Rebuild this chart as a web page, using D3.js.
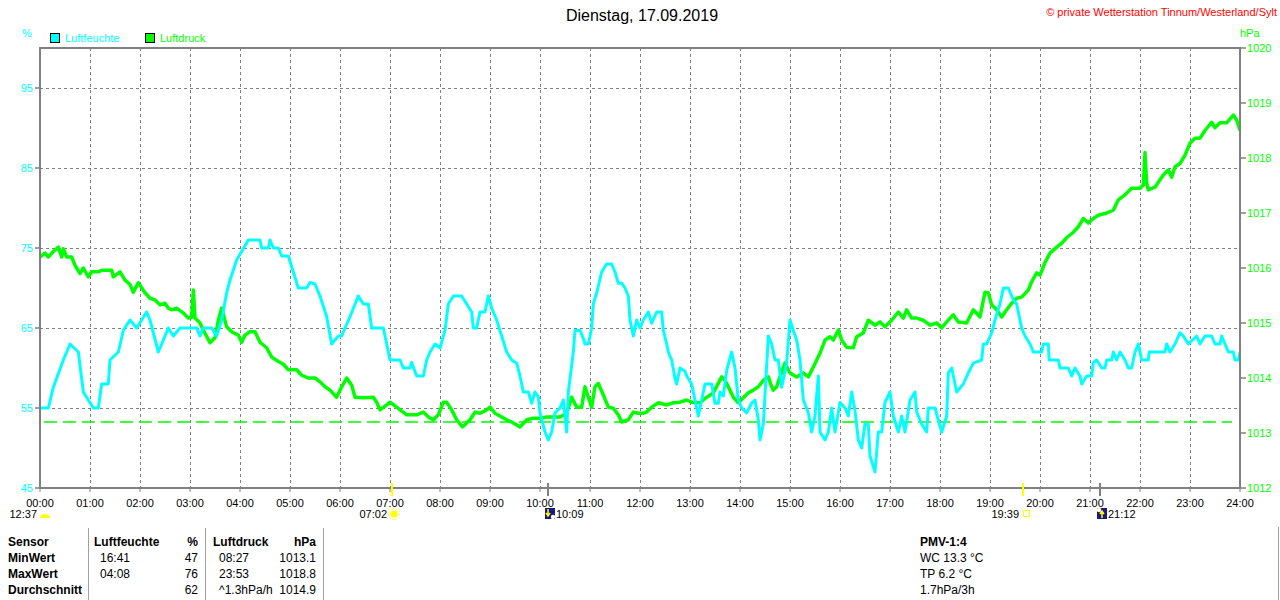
<!DOCTYPE html>
<html>
<head>
<meta charset="utf-8">
<script src="https://cdn.jsdelivr.net/npm/d3@7"></script>
<style>
  body { margin: 0; background: #fff; }
  svg { display: block; font-family: "Liberation Sans", Arial, sans-serif; }
  .grid line { stroke: #808080; stroke-dasharray: 3,3; stroke-width: 1; }
  .frame { stroke: #808080; stroke-width: 2; fill: none; }
  .tbl { font-size: 12px; fill: #000; }
  .bold { font-weight: bold; }
</style>
</head>
<body>
<svg id="chart" width="1280" height="600"></svg>
<script>
// Luftfeuchte [Minute des Tages, %]
const humidity = [
  [0,55],[10,55],[16,57.6],[28,61],[36,63],[46,62],[52,57],[64,55],[70,55],[74,58],[82,58],[84,61],
  [94,62],[100,64.7],[108,66],[116,65],[128,67],[132,66],[142,62],[146,63],[154,65],[160,64],[168,65],
  [188,65],[192,64],[196,65],[206,65],[212,64],[218,66],[224,69.4],[228,71],[236,73.5],[250,76],[264,76],
  [266,75],[274,75],[276,76],[280,75],[286,75],[290,74],[298,74],[304,72],[310,70],[320,70],[324,70.7],
  [330,70.5],[336,69],[344,66.4],[350,63],[358,64],[362,64],[366,65],[372,66.4],[382,69],[388,68],
  [394,68],[398,65],[408,65],[412,65],[420,61],[432,61],[436,60],[444,60],[446,60.7],[452,59],[460,59],
  [464,61],[468,62],[474,63],[480,62.5],[486,64.7],[490,68],[496,69],[506,69],[512,68],[518,67],[520,65],
  [524,65],[528,67],[534,67],[538,69],[542,67.5],[548,66],[554,64],[560,62],[566,61],[572,60.6],[576,59],
  [580,57],[586,57],[590,55.6],[594,57],[598,56.4],[600,54.4],[606,52],[610,51],[614,52],[618,54.4],
  [624,55],[628,56],[632,52],[634,57],[640,62],[642,64.7],[648,64.7],[652,63.7],[654,63],[658,63],
  [662,65],[664,68],[668,69.4],[674,72],[680,73],[686,73],[690,72],[694,70.6],[698,70.6],[702,70],
  [706,69],[708,66],[712,64],[716,66],[720,65],[724,66],[730,67],[734,65.6],[740,67],[746,67],[748,64.7],
  [752,63],[754,62],[758,61],[762,58.7],[764,58],[768,60],[774,59.6],[776,59],[782,58],[786,56],[790,54],
  [794,56],[798,58],[806,58],[810,55.6],[814,55.6],[816,57],[820,56.5],[824,59.7],[830,62],[834,60],
  [838,56],[842,55],[848,54.4],[854,55.6],[858,56],[862,53.5],[864,51],[868,53],[874,64],[878,63],
  [882,61],[886,61],[890,57.6],[896,60.6],[900,66],[904,64.7],[908,63.5],[912,61],[916,56],[922,54.4],
  [926,52],[930,54],[934,59],[936,52],[942,51],[946,52],[950,55],[954,52],[960,55.7],[966,55],[970,54],
  [974,57],[978,54.7],[982,51],[986,50],[990,53],[994,53],[996,49],[1002,47],[1006,52],[1010,52],
  [1014,55.7],[1020,57],[1024,54],[1030,52],[1034,54],[1038,52],[1044,56],[1050,57],[1052,54.5],
  [1058,53],[1064,52],[1066,55],[1074,55],[1082,52],[1088,54],[1090,59.4],[1094,60],[1100,57],[1108,58],
  [1114,59.4],[1120,60.6],[1130,61],[1132,63],[1136,63],[1142,64.4],[1146,66],[1152,68],[1156,70],
  [1162,70],[1168,68.5],[1172,68],[1178,65],[1182,64],[1188,63],[1192,62],[1202,62],[1204,63],[1210,63],
  [1211,61],[1222,61],[1224,60],[1234,60],[1238,59],[1242,60],[1248,59],[1250,58],[1256,59],[1262,59],
  [1264,60.7],[1268,61],[1274,60],[1278,60],[1280,61],[1286,61],[1288,62],[1292,61],[1296,62],[1302,61],
  [1306,60],[1310,60],[1314,62],[1318,63],[1322,61],[1330,61],[1331,62],[1350,62],[1352,63],[1356,62],
  [1362,63],[1368,64.4],[1372,64],[1378,63],[1388,64],[1392,63],[1398,64],[1406,64],[1410,63],[1416,63],
  [1418,64],[1422,63],[1426,62],[1432,62],[1434,61],[1438,61],[1440,62]
];

// Luftdruck [Minute des Tages, hPa]
const pressure = [
  [0,1016.2],[6,1016.27],[10,1016.2],[16,1016.3],[22,1016.38],[26,1016.2],[28,1016.35],[32,1016.2],
  [38,1016.2],[42,1016.05],[48,1015.9],[52,1016.0],[58,1015.84],[62,1015.93],[70,1015.93],[74,1015.96],
  [86,1015.96],[88,1015.84],[96,1015.93],[102,1015.78],[108,1015.7],[112,1015.56],[118,1015.73],
  [122,1015.64],[126,1015.55],[132,1015.45],[138,1015.42],[144,1015.33],[150,1015.36],[154,1015.27],
  [158,1015.24],[164,1015.27],[172,1015.18],[178,1015.09],[182,1015.1],[184,1015.6],[186,1015.09],
  [192,1015.0],[196,1014.87],[204,1014.64],[210,1014.73],[214,1015.05],[218,1015.27],[224,1014.93],
  [230,1014.84],[238,1014.78],[242,1014.65],[246,1014.78],[252,1014.84],[258,1014.84],[264,1014.65],
  [272,1014.55],[278,1014.38],[286,1014.3],[292,1014.25],[298,1014.15],[308,1014.15],[314,1014.05],
  [322,1014.0],[330,1014.0],[336,1013.93],[342,1013.84],[348,1013.78],[356,1013.65],[362,1013.84],
  [368,1014.0],[374,1013.87],[378,1013.65],[388,1013.64],[400,1013.65],[404,1013.56],[408,1013.42],
  [416,1013.51],[420,1013.56],[428,1013.47],[440,1013.33],[452,1013.33],[460,1013.38],[466,1013.29],
  [472,1013.24],[478,1013.33],[484,1013.56],[488,1013.56],[494,1013.42],[500,1013.24],[507,1013.11],
  [516,1013.24],[522,1013.38],[528,1013.36],[536,1013.42],[540,1013.47],[546,1013.36],[554,1013.29],
  [560,1013.24],[566,1013.2],[576,1013.11],[584,1013.24],[592,1013.27],[600,1013.27],[608,1013.29],
  [616,1013.29],[624,1013.29],[632,1013.36],[638,1013.65],[644,1013.47],[650,1013.47],[654,1013.84],
  [658,1013.65],[662,1013.47],[666,1013.84],[670,1013.9],[676,1013.69],[682,1013.47],[688,1013.45],
  [694,1013.33],[698,1013.2],[706,1013.24],[712,1013.38],[718,1013.36],[724,1013.36],[728,1013.38],
  [734,1013.47],[742,1013.55],[752,1013.51],[760,1013.55],[768,1013.56],[776,1013.6],[782,1013.56],
  [792,1013.55],[800,1013.65],[808,1013.73],[818,1014.02],[822,1013.96],[826,1013.84],[832,1013.65],
  [838,1013.55],[844,1013.64],[850,1013.73],[856,1013.78],[862,1013.84],[868,1013.96],[874,1014.02],
  [878,1013.84],[880,1013.78],[884,1013.84],[888,1014.02],[894,1014.27],[900,1014.09],[908,1014.02],
  [916,1014.09],[922,1014.02],[928,1014.2],[936,1014.45],[942,1014.69],[948,1014.75],[952,1014.69],
  [958,1014.87],[962,1014.69],[968,1014.56],[976,1014.55],[980,1014.75],[988,1014.82],[994,1015.05],
  [1002,1014.96],[1008,1015.02],[1014,1014.93],[1022,1015.05],[1030,1015.2],[1036,1015.09],[1040,1015.24],
  [1046,1015.09],[1052,1015.09],[1060,1015.05],[1068,1014.96],[1076,1015.0],[1082,1014.91],[1088,1015.02],
  [1096,1015.15],[1102,1015.02],[1112,1015.0],[1120,1015.24],[1128,1015.11],[1134,1015.56],[1138,1015.55],
  [1142,1015.33],[1148,1015.24],[1154,1015.11],[1160,1015.24],[1166,1015.36],[1172,1015.45],[1178,1015.47],
  [1186,1015.6],[1190,1015.75],[1196,1015.91],[1200,1015.87],[1206,1016.1],[1212,1016.27],[1220,1016.38],
  [1226,1016.45],[1232,1016.55],[1240,1016.65],[1246,1016.75],[1252,1016.9],[1258,1016.82],[1264,1016.9],
  [1270,1016.96],[1280,1017.0],[1288,1017.05],[1294,1017.24],[1302,1017.33],[1310,1017.45],[1320,1017.45],
  [1324,1017.51],[1326,1018.1],[1328,1017.55],[1330,1017.42],[1338,1017.47],[1342,1017.56],[1348,1017.69],
  [1354,1017.78],[1358,1017.65],[1362,1017.84],[1368,1017.9],[1374,1018.05],[1380,1018.27],[1386,1018.36],
  [1392,1018.36],[1398,1018.5],[1406,1018.65],[1410,1018.55],[1416,1018.64],[1424,1018.64],[1432,1018.78],
  [1436,1018.69],[1440,1018.5]
];

const humTicks = [45, 55, 65, 75, 85, 95];
const pressTicks = [1012, 1013, 1014, 1015, 1016, 1017, 1018, 1019, 1020];
const hourTicks = d3.range(0, 25);
const pressRefLine = 1013.2;

// Sonne / Mond Ereignisse [Minute, Label, Typ]
const astroEvents = [
  [0, "12:37", "moonset0"],
  [422, "07:02", "sunrise"],
  [609, "10:09", "moonset"],
  [1179, "19:39", "sunset"],
  [1272, "21:12", "moonrise"]
];

// Tabelle
const tableHeader = ["Sensor", "Luftfeuchte", "%", "Luftdruck", "hPa"];
const tableRows = [
  ["MinWert", "16:41", "47", "08:27", "1013.1"],
  ["MaxWert", "04:08", "76", "23:53", "1018.8"],
  ["Durchschnitt", "", "62", "^1.3hPa/h", "1014.9"]
];
const pmvLines = ["PMV-1:4", "WC 13.3 °C", "TP 6.2 °C", "1.7hPa/3h"];

const CYAN = "#00ffff", GREEN = "#00ff00";
const svg = d3.select("#chart");

const x = d3.scaleLinear().domain([0, 1440]).range([40, 1240]);
const yH = d3.scaleLinear().domain([45, 100]).range([488, 48]);
const yP = d3.scaleLinear().domain([1012, 1020]).range([488, 48]);

// Titel
svg.append("text").attr("x", 642).attr("y", 21).attr("text-anchor", "middle")
  .style("font-size", "16px").attr("fill", "#000").text("Dienstag, 17.09.2019");
svg.append("text").attr("x", 1277).attr("y", 16).attr("text-anchor", "end")
  .style("font-size", "11px").attr("fill", "#ff0000").text("© private Wetterstation Tinnum/Westerland/Sylt");

// Einheiten + Legende
svg.append("text").attr("x", 22).attr("y", 37).style("font-size", "11px").attr("fill", CYAN).text("%");
svg.append("text").attr("x", 1240).attr("y", 37).style("font-size", "11px").attr("fill", GREEN).text("hPa");
const legend = [["Luftfeuchte", CYAN, 50], ["Luftdruck", GREEN, 145]];
legend.forEach(([name, col, lx]) => {
  svg.append("rect").attr("x", lx + 0.5).attr("y", 33.5).attr("width", 9).attr("height", 9)
    .attr("fill", col).attr("stroke", "#000");
  svg.append("text").attr("x", lx + 15).attr("y", 42).style("font-size", "11px").attr("fill", col).text(name);
});

// Gitter
const grid = svg.append("g").attr("class", "grid");
grid.selectAll(".v").data(hourTicks.slice(1, -1)).join("line")
  .attr("x1", d => x(d * 60) + 0.5).attr("x2", d => x(d * 60) + 0.5)
  .attr("y1", 48).attr("y2", 488);
grid.selectAll(".h").data(humTicks.slice(1)).join("line")
  .attr("x1", 40).attr("x2", 1240)
  .attr("y1", d => yH(d) + 0.5).attr("y2", d => yH(d) + 0.5);

// Referenzlinie Luftdruck
svg.append("line").attr("x1", 44).attr("x2", 1232)
  .attr("y1", yP(pressRefLine)).attr("y2", yP(pressRefLine))
  .attr("stroke", GREEN).attr("stroke-width", 1.5).attr("stroke-dasharray", "13,6");

// Kurven
svg.append("clipPath").attr("id", "clip").append("rect")
  .attr("x", 41).attr("y", 49).attr("width", 1198).attr("height", 438);
svg.append("path").datum(pressure)
  .attr("clip-path", "url(#clip)")
  .attr("d", d3.line().x(d => x(d[0])).y(d => yP(d[1])))
  .attr("fill", "none").attr("stroke", GREEN).attr("stroke-width", 3.5).attr("stroke-linejoin", "round");
svg.append("path").datum(humidity)
  .attr("clip-path", "url(#clip)")
  .attr("d", d3.line().x(d => x(d[0])).y(d => yH(d[1])))
  .attr("fill", "none").attr("stroke", CYAN).attr("stroke-width", 3).attr("stroke-linejoin", "round");

// Rahmen
svg.append("path").attr("class", "frame")
  .attr("d", "M40,48 H1240 V488 H40 Z");

// linke Achse
const lAx = svg.append("g");
lAx.selectAll("line").data(humTicks).join("line")
  .attr("x1", 35).attr("x2", 40).attr("y1", d => yH(d)).attr("y2", d => yH(d))
  .attr("stroke", "#808080").attr("stroke-width", 1.5);
lAx.selectAll("text").data(humTicks).join("text")
  .attr("x", 33).attr("y", d => yH(d) + 4).attr("text-anchor", "end")
  .style("font-size", "11px").attr("fill", CYAN).text(d => d);

// rechte Achse
const rAx = svg.append("g");
rAx.selectAll("line").data(pressTicks).join("line")
  .attr("x1", 1240).attr("x2", 1246).attr("y1", d => yP(d)).attr("y2", d => yP(d))
  .attr("stroke", "#808080").attr("stroke-width", 1.5);
rAx.selectAll("text").data(pressTicks).join("text")
  .attr("x", 1247).attr("y", d => yP(d) + 4)
  .style("font-size", "11px").attr("fill", GREEN).text(d => d);

// Zeitachse
const xAx = svg.append("g");
xAx.selectAll("line").data(hourTicks).join("line")
  .attr("x1", d => x(d * 60)).attr("x2", d => x(d * 60)).attr("y1", 488).attr("y2", 492)
  .attr("stroke", "#808080");
xAx.selectAll("text").data(hourTicks).join("text")
  .attr("x", d => x(d * 60)).attr("y", 507).attr("text-anchor", "middle")
  .style("font-size", "11px").attr("fill", "#000")
  .text(d => String(d).padStart(2, "0") + ":00");

// Sonne/Mond Symbole
astroEvents.forEach(([m, label, type]) => {
  const px = Math.round(x(m));
  const g = svg.append("g");
  if (type === "sunrise" || type === "sunset") {
    g.append("line").attr("x1", px).attr("x2", px).attr("y1", 483).attr("y2", 496)
      .attr("stroke", "#ffff00").attr("stroke-width", 2);
  } else if (type !== "moonset0") {
    g.append("line").attr("x1", px).attr("x2", px).attr("y1", 483).attr("y2", 496)
      .attr("stroke", "#808080").attr("stroke-width", 2);
  }
  if (type === "moonset0") {
    g.append("text").attr("x", 37).attr("y", 518).attr("text-anchor", "end")
      .style("font-size", "11px").text(label);
    g.append("path").attr("d", "M40,518 a5,4 0 0 1 10,0 Z").attr("fill", "#ffff00");
  } else if (type === "sunrise") {
    g.append("text").attr("x", px - 5).attr("y", 518).attr("text-anchor", "end")
      .style("font-size", "11px").text(label);
    g.append("circle").attr("cx", px + 2).attr("cy", 514).attr("r", 3.5).attr("fill", "#ffff00");
    g.append("circle").attr("cx", px + 2).attr("cy", 514).attr("r", 5.5).attr("fill", "none")
      .attr("stroke", "#ffff00").attr("stroke-width", 1).attr("stroke-dasharray", "1.5,1.5");
  } else if (type === "sunset") {
    g.append("text").attr("x", px - 4).attr("y", 518).attr("text-anchor", "end")
      .style("font-size", "11px").text(label);
    g.append("rect").attr("x", px + 0.5).attr("y", 510.5).attr("width", 6).attr("height", 6)
      .attr("fill", "none").attr("stroke", "#ffff00");
  } else {
    g.append("rect").attr("x", px - 3).attr("y", 508).attr("width", 10).attr("height", 11).attr("fill", "#1a1a80");
    g.append("circle").attr("cx", type === "moonset" ? px + 5 : px - 1).attr("cy", type === "moonset" ? 517 : 510)
      .attr("r", 2.2).attr("fill", "#fff");
    g.append("path").attr("d", type === "moonset"
        ? `M${px},509 V516 M${px - 2},513 L${px},516 L${px + 2},513`
        : `M${px + 2},518 V511 M${px},514 L${px + 2},511 L${px + 4},514`)
      .attr("stroke", "#ffff00").attr("stroke-width", 1.5).attr("fill", "none");
    g.append("text").attr("x", px + 8).attr("y", 518)
      .style("font-size", "11px").text(label);
  }
});

// Tabelle
[88, 205, 323].forEach(lx => {
  svg.append("line").attr("x1", lx + 0.5).attr("x2", lx + 0.5).attr("y1", 528).attr("y2", 600)
    .attr("stroke", "#a0a0a0");
});
svg.append("line").attr("x1", 1278.5).attr("x2", 1278.5).attr("y1", 527).attr("y2", 600)
  .attr("stroke", "#a0a0a0");

const colX = [8, 94, 198, 213, 316];
const colAnchor = ["start", "start", "end", "start", "end"];
const rowY = [546, 562, 578, 594];
const tbl = svg.append("g").attr("class", "tbl");
tableHeader.forEach((t, i) => {
  tbl.append("text").attr("class", "bold").attr("x", colX[i]).attr("y", rowY[0])
    .attr("text-anchor", colAnchor[i]).text(t);
});
tableRows.forEach((row, r) => {
  row.forEach((t, i) => {
    const xi = (i === 1 || i === 3) ? colX[i] + 6 : colX[i];
    tbl.append("text").attr("class", i === 0 ? "bold" : null)
      .attr("x", xi).attr("y", rowY[r + 1])
      .attr("text-anchor", colAnchor[i]).text(t);
  });
});
pmvLines.forEach((t, i) => {
  tbl.append("text").attr("class", i === 0 ? "bold" : null)
    .attr("x", 920).attr("y", rowY[i]).text(t);
});
</script>
</body>
</html>
